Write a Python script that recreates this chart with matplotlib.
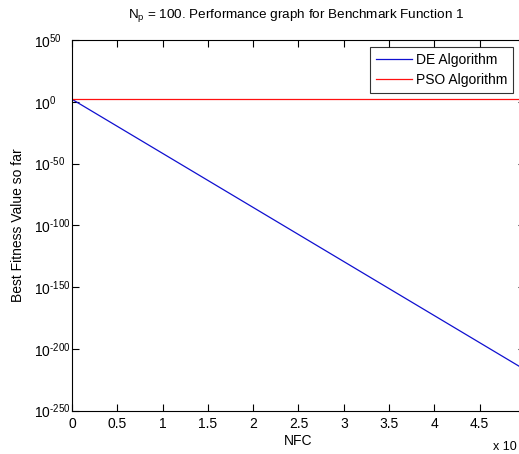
import matplotlib
matplotlib.use("Agg")
import matplotlib.pyplot as plt
import numpy as np

plt.rcParams['font.family'] = ['Liberation Sans', 'DejaVu Sans']
plt.rcParams['mathtext.fontset'] = 'custom'
plt.rcParams['mathtext.rm'] = 'Liberation Sans'
plt.rcParams['mathtext.it'] = 'Liberation Sans'

# Data (x in units of NFC x 10^4)
nfc = [0.0, 5.0]
de_fitness = [1e2, 1e-217]
pso_fitness = [1e2, 1e2]
series_labels = ["DE Algorithm", "PSO Algorithm"]
x_ticks = [0, 0.5, 1, 1.5, 2, 2.5, 3, 3.5, 4, 4.5, 5]
x_tick_labels = ["0", "0.5", "1", "1.5", "2", "2.5", "3", "3.5", "4", "4.5", ""]
y_exponents = [50, 0, -50, -100, -150, -200, -250]

W, H = 519, 454
fig = plt.figure(figsize=(W / 100, H / 100), dpi=100)
left, right, top, bottom = 72, 525, 40, 410.5
ax = fig.add_axes([left / W, 1 - bottom / H, (right - left) / W, (bottom - top) / H])

ax.semilogy(nfc, de_fitness, color='#1010d0', lw=0.9, label=series_labels[0])
ax.semilogy(nfc, pso_fitness, color='#ff1010', lw=0.9, label=series_labels[1])

ax.set_xlim(0, 5)
ax.set_ylim(1e-250, 1e50)
ax.set_xticks(x_ticks)
ax.set_xticklabels(x_tick_labels)


def exp_label(e):
    s = str(abs(e))
    if e < 0:
        s = "\u2010" + s
    return r"10$^{\mathrm{%s}}$" % s


ax.set_yticks([10.0 ** e for e in y_exponents])
ax.set_yticklabels([exp_label(e) for e in y_exponents])
ax.minorticks_off()
ax.yaxis.set_minor_locator(matplotlib.ticker.NullLocator())
ax.tick_params(direction='in', length=5, width=0.8, top=True, right=True,
               labelsize=10, colors='black')
ax.tick_params(axis='x', pad=5)
ax.tick_params(axis='y', pad=27.5)
for lab in ax.get_yticklabels():
    lab.set_horizontalalignment('left')
for s in ax.spines.values():
    s.set_linewidth(0.8)

ax.set_xlabel("NFC", fontsize=10, labelpad=2)
ax.set_ylabel("Best Fitness Value so far", fontsize=10, labelpad=6)
fig.text(296 / W, 1 - 16 / H, r"N$_{\mathrm{p}}$ = 100. Performance graph for Benchmark Function 1",
         ha='center', va='center', fontsize=9.7)

fig.text(493 / W, 1 - 446.5 / H, "x 10", ha='left', va='center', fontsize=9)

leg = ax.legend(loc='upper right', bbox_to_anchor=(513 / W, 1 - 47 / H),
                bbox_transform=fig.transFigure, fancybox=False, frameon=True,
                edgecolor='black', fontsize=10, handlelength=2.6, borderpad=0.42,
                labelspacing=0.45, handletextpad=0.3, borderaxespad=0)
leg.get_frame().set_linewidth(0.8)

fig.savefig("out.png", dpi=100)
